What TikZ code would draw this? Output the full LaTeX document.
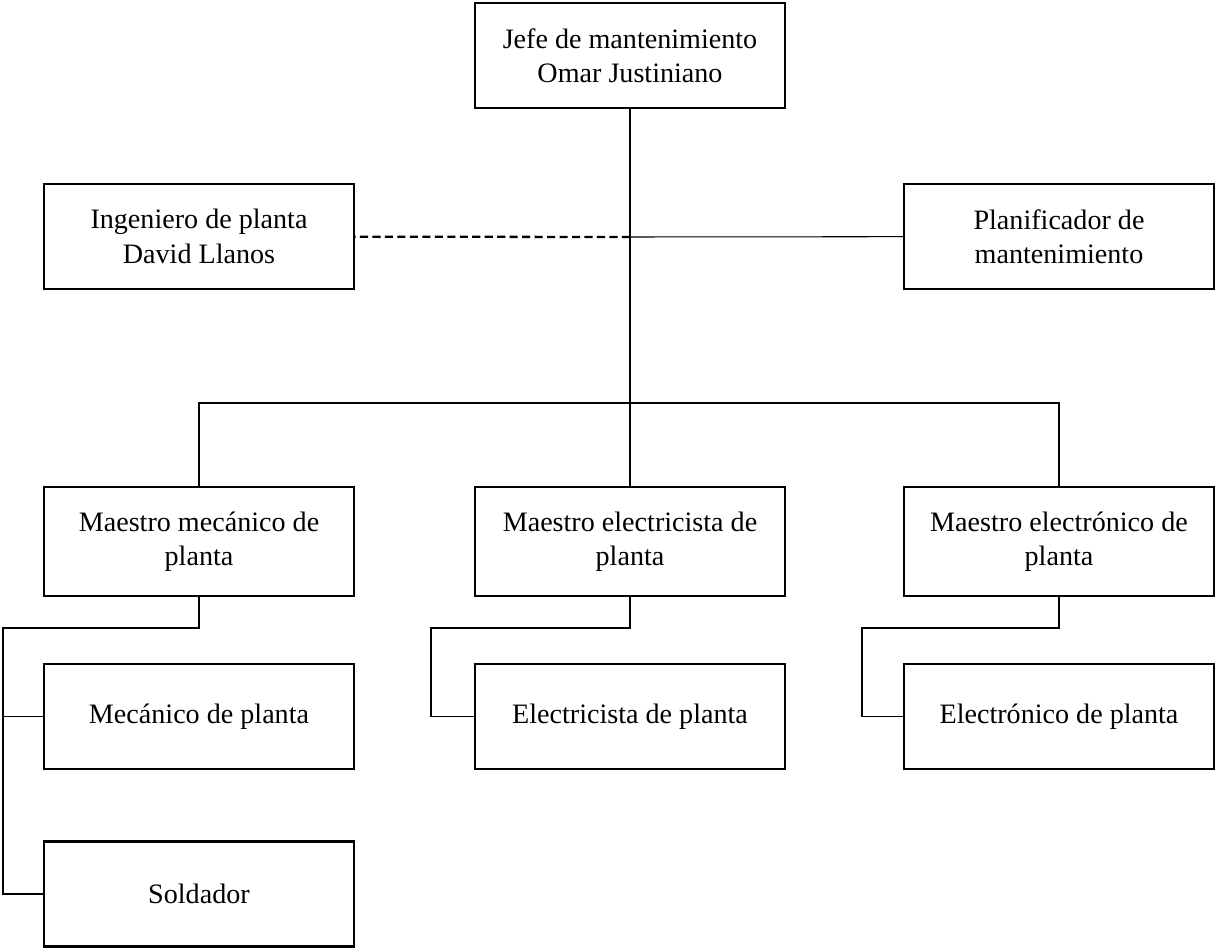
\documentclass[tikz,border=0pt]{standalone}
\usepackage{fontspec}
\setmainfont{Liberation Serif}
\usepackage{tikz}
\usetikzlibrary{positioning}
\tikzstyle{chart} = [x = 0.02cm, y = -0.02cm]
\tikzstyle{boxStyle} = [draw, line width=1.2pt, minimum width=6.2cm, minimum height=2.1cm, align=center, font=\fontsize{16}{19.5}\selectfont]
\tikzstyle{tallBox} = [boxStyle, minimum height=2.18cm]
\tikzstyle{linkLine} = [line width=0.6pt]
\tikzstyle{dashedLink} = [line width=1.3pt, dash pattern=on 4.6pt off 2.5pt]

\begin{document}
\begin{tikzpicture}[chart]
  \useasboundingbox (0,0) rectangle (1215,950);
  % boxes
  \node [boxStyle] (jefe) at (630,55.5) {Jefe de mantenimiento\\Omar Justiniano};
  \node [boxStyle] (ingeniero) at (199,236.5) {Ingeniero de planta\\David Llanos};
  \node [boxStyle] (planificador) at (1059,236.5) {Planificador de\\mantenimiento};
  \node [tallBox] (maestroMec) at (199,541.5) {Maestro mec\'anico de\\planta};
  \node [tallBox] (maestroEle) at (630,541.5) {Maestro electricista de\\planta};
  \node [tallBox] (maestroElo) at (1059,541.5) {Maestro electr\'onico de\\planta};
  \node [boxStyle] (mecanico) at (199,716.5) {Mec\'anico de planta};
  \node [boxStyle] (electricista) at (630,716.5) {Electricista de planta};
  \node [boxStyle] (electronico) at (1059,716.5) {Electr\'onico de planta};
  \node [boxStyle] (soldador) at (199,894) {Soldador};

  % turning points
  \coordinate (staff) at (630,237);
  \coordinate (bus) at (630,403);
  \coordinate (mecTurn) at (3,628);
  \coordinate (eleTurn) at (431,628);
  \coordinate (eloTurn) at (862,628);

  % connectors
  \draw [linkLine] (jefe) -- (bus);
  \draw [linkLine] (staff) -- (planificador);
  \draw [dashedLink] (staff) -- (ingeniero);
  \draw [linkLine] (maestroMec.north) |- (bus) -| (maestroElo.north);
  \draw [linkLine] (bus) -- (maestroEle);
  \draw [linkLine] (maestroMec.south) |- (mecTurn) |- (soldador.west);
  \draw [linkLine] (mecTurn) |- (mecanico.west);
  \draw [linkLine] (maestroEle.south) |- (eleTurn) |- (electricista.west);
  \draw [linkLine] (maestroElo.south) |- (eloTurn) |- (electronico.west);
\end{tikzpicture}
\end{document}
